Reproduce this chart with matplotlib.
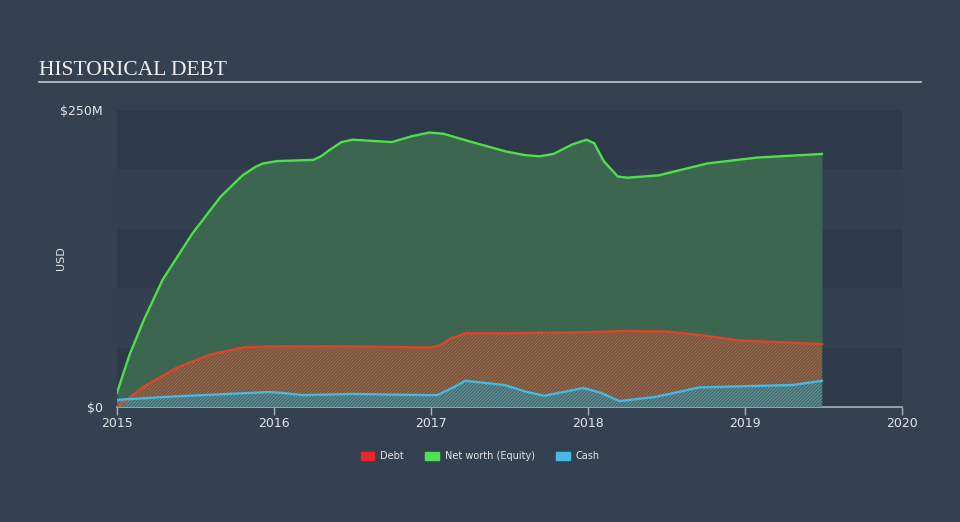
import matplotlib
matplotlib.use("Agg")
import matplotlib.pyplot as plt
from matplotlib.patches import Patch

# values in $M, x in decimal years
equity_x = [2015.00, 2015.08, 2015.17, 2015.29, 2015.48, 2015.66, 2015.80, 2015.88,
            2015.93, 2016.02, 2016.25, 2016.30, 2016.35, 2016.43, 2016.50, 2016.75,
            2016.88, 2016.99, 2017.08, 2017.26, 2017.48, 2017.60, 2017.69, 2017.78,
            2017.90, 2017.99, 2018.04, 2018.10, 2018.19, 2018.25, 2018.45, 2018.76,
            2019.08, 2019.49]
equity_y = [12, 44, 73, 107, 146, 177, 195, 202,
            205, 207, 208, 211, 216, 223, 225, 223,
            228, 231, 230, 223, 215, 212, 211, 213,
            221, 225, 222, 207, 194, 193, 195, 205,
            210, 213]

debt_x = [2015.00, 2015.17, 2015.38, 2015.59, 2015.80, 2015.96, 2016.50, 2016.99,
          2017.06, 2017.13, 2017.22, 2017.50, 2018.00, 2018.25, 2018.50, 2018.75,
          2018.96, 2019.49]
debt_y = [0, 17, 33, 44, 50, 51, 51, 50,
          52, 58, 62, 62, 63, 64, 63.5, 60,
          56, 53]

cash_x = [2015.00, 2015.38, 2015.97, 2016.08, 2016.18, 2016.50, 2016.98, 2017.04,
          2017.12, 2017.22, 2017.47, 2017.60, 2017.72, 2017.86, 2017.97, 2018.08,
          2018.20, 2018.43, 2018.71, 2019.00, 2019.30, 2019.49]
cash_y = [6, 9, 12.6, 11.5, 10, 11, 10, 10,
          15, 22, 18.5, 13, 9.5, 13, 16, 12,
          5, 8.5, 16.5, 17.5, 18.5, 22]

years = [2015, 2016, 2017, 2018, 2019, 2020]

BG = "#344151"
BAND = "#2e3a4a"
TXT = "#e3e6ea"
AXIS = "#aab2bc"

plt.rcParams["hatch.linewidth"] = 0.6

fig = plt.figure(figsize=(9.6, 5.22), dpi=100, facecolor=BG)
ax = fig.add_axes([117 / 960, 1 - 407 / 522, 785 / 960, 297 / 522])
ax.set_facecolor("#334050")

# alternating horizontal bands
for lo in (0, 100, 200):
    ax.axhspan(lo, lo + 50, color=BAND, zorder=0, lw=0)

# equity fill + line
ax.fill_between(equity_x, 0, equity_y, color="#3c6650", lw=0, zorder=1)
ax.plot(equity_x, equity_y, color="#4fdf4a", lw=1.7, zorder=4)

# debt hatched area
ax.fill_between(debt_x, 0, debt_y, facecolor="#605c48", edgecolor="#c65e3e",
                hatch="//////////", lw=0, zorder=2)
ax.plot(debt_x, debt_y, color="#d9472b", lw=1.7, zorder=5)

# cash hatched area
ax.fill_between(cash_x, 0, cash_y, facecolor="#56665f", edgecolor="#4aa2bd",
                hatch="//////////", lw=0, zorder=3)
ax.plot(cash_x, cash_y, color="#47b8e0", lw=1.7, zorder=6)

ax.set_xlim(2015, 2020)
ax.set_ylim(0, 250)

for side in ("top", "right", "left"):
    ax.spines[side].set_visible(False)
ax.spines["bottom"].set_color(AXIS)
ax.spines["bottom"].set_linewidth(1.2)

ax.set_xticks(years)
ax.set_xticklabels([str(y) for y in years])
ax.tick_params(axis="x", colors=AXIS, length=6, width=1, labelcolor=TXT,
               labelsize=9, pad=1)
ax.set_yticks([0, 250])
ax.set_yticklabels(["$0", "$250M"])
ax.tick_params(axis="y", length=0, labelcolor=TXT, labelsize=9, pad=10)
ax.set_ylabel("USD", color=TXT, fontsize=8)
ax.yaxis.set_label_coords((66 - 117) / 785, 0.5)

# title and underline
fig.text(39 / 960, 1 - 75 / 522, "HISTORICAL DEBT", color="#f0f0f0",
         fontsize=15.5, family="Liberation Serif", va="baseline")
fig.add_artist(plt.Line2D([39 / 960, 921 / 960], [1 - 82 / 522, 1 - 82 / 522],
                          color="#b5bcc4", lw=1.3))

handles = [Patch(color="#e8262a", label="Debt"),
           Patch(color="#4ee24e", label="Net worth (Equity)"),
           Patch(color="#48b9e0", label="Cash")]
leg = fig.legend(handles=handles, loc="center", bbox_to_anchor=(0.5, 1 - 456 / 522),
                 ncol=3, frameon=False, fontsize=7, handlelength=1.4,
                 handleheight=0.9, columnspacing=2.2, handletextpad=0.6)
for t in leg.get_texts():
    t.set_color(TXT)

fig.savefig("out.png", dpi=100, facecolor=BG)
